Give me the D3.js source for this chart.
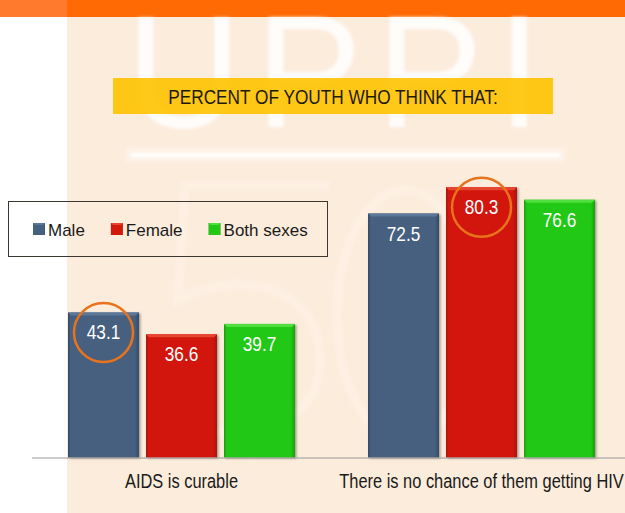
<!DOCTYPE html>
<html>
<head>
<meta charset="utf-8">
<script src="https://cdn.jsdelivr.net/npm/d3@7"></script>
<style>
  html, body { margin: 0; padding: 0; background: #ffffff; }
  svg { display: block; }
</style>
</head>
<body>
<svg id="chart" width="625" height="513"></svg>
<script>
// ---- data ----
const categories = ["AIDS is curable", "There is no chance of them getting HIV"];
const seriesNames = ["Male", "Female", "Both sexes"];
const maleValues = [43.1, 72.5];
const femaleValues = [36.6, 80.3];
const bothValues = [39.7, 76.6];
const titleText = "PERCENT OF YOUTH WHO THINK THAT:";
const watermarkText = "UPPI";

const seriesValues = [maleValues, femaleValues, bothValues];
const colors = {
  "Male":       { base: "#46607f", light: "#5b7899", dark: "#344a66" },
  "Female":     { base: "#d2190c", light: "#e8452f", dark: "#a81208" },
  "Both sexes": { base: "#22c814", light: "#4fe03f", dark: "#19a00e" }
};

const W = 625, H = 513;
const regular = "'Liberation Sans', Arial, sans-serif";
const CONDENSE = 0.82;

// squeeze a text horizontally to a condensed face
function condense(sel) {
  sel.each(function() {
    const len = this.getComputedTextLength();
    d3.select(this)
      .attr("textLength", len * CONDENSE)
      .attr("lengthAdjust", "spacingAndGlyphs");
  });
}

const svg = d3.select("#chart");
const defs = svg.append("defs");

// ---- page background ----
svg.append("rect").attr("x", 0).attr("y", 0).attr("width", W).attr("height", H).attr("fill", "#ffffff");
svg.append("rect").attr("x", 67).attr("y", 0).attr("width", W - 67).attr("height", H).attr("fill", "#fcecdc");
svg.append("rect").attr("x", 0).attr("y", 0).attr("width", 67).attr("height", 17).attr("fill", "#ff7a2c");
svg.append("rect").attr("x", 67).attr("y", 0).attr("width", W - 67).attr("height", 17).attr("fill", "#ff6a05");

// soft blur for the watermark
const blur = defs.append("filter").attr("id", "soft").attr("x", "-10%").attr("y", "-10%").attr("width", "120%").attr("height", "120%");
blur.append("feGaussianBlur").attr("stdDeviation", 1.6);

const wm = svg.append("g").attr("filter", "url(#soft)");
wm.append("text")
  .attr("x", 126).attr("y", 127)
  .attr("font-family", regular)
  .attr("font-size", 160)
  .attr("letter-spacing", 14)
  .attr("fill", "#ffffff")
  .attr("fill-opacity", 0.85)
  .text(watermarkText);

// rule under the watermark
wm.append("rect").attr("x", 126).attr("y", 148).attr("width", 439).attr("height", 14)
  .attr("fill", "#ffffff").attr("fill-opacity", 0.3);
wm.append("rect").attr("x", 131).attr("y", 153).attr("width", 429).attr("height", 4)
  .attr("fill", "#ffffff");

// faint emblem behind the bars
const emb = svg.append("g").attr("filter", "url(#soft)")
  .attr("fill", "none").attr("stroke", "#ffffff").attr("stroke-opacity", 0.2).attr("stroke-width", 9);
emb.append("path").attr("d", "M330,185 L185,185 L178,300 C230,270 320,280 320,360 C320,440 210,450 170,410");
emb.append("ellipse").attr("cx", 405).attr("cy", 315).attr("rx", 68).attr("ry", 125);

// ---- title banner ----
svg.append("rect").attr("x", 113).attr("y", 78).attr("width", 440).attr("height", 36)
  .attr("fill", "#fec300").attr("fill-opacity", 0.9);
svg.append("text")
  .attr("x", 333).attr("y", 104)
  .attr("text-anchor", "middle")
  .attr("font-family", regular)
  .attr("font-size", 21)
  .attr("fill", "#1e1a10")
  .text(titleText)
  .call(condense);

// ---- scales ----
const baseY = 457.5;
const x0 = d3.scaleBand().domain(categories).range([31.5, 631.5]).padding(0);
const x1 = d3.scaleBand().domain(seriesNames).range([36.5, 263.5]).paddingInner(0.0897).paddingOuter(0);
const y = d3.scaleLinear().domain([0, 100]).range([baseY, baseY - 336.5]);

// gradients for the bevelled bars
seriesNames.forEach((s, i) => {
  const g = defs.append("linearGradient").attr("id", "grad" + i)
    .attr("x1", "0%").attr("x2", "100%").attr("y1", "0%").attr("y2", "0%");
  g.append("stop").attr("offset", "0%").attr("stop-color", colors[s].dark);
  g.append("stop").attr("offset", "4%").attr("stop-color", colors[s].base);
  g.append("stop").attr("offset", "94%").attr("stop-color", colors[s].base);
  g.append("stop").attr("offset", "100%").attr("stop-color", colors[s].dark);
});
const shadow = defs.append("filter").attr("id", "shadow").attr("x", "-10%").attr("y", "-10%").attr("width", "130%").attr("height", "130%");
shadow.append("feDropShadow").attr("dx", 1.5).attr("dy", 1).attr("stdDeviation", 1.2)
  .attr("flood-color", "#000").attr("flood-opacity", 0.35);

// ---- bars ----
const rows = categories.map((c, ci) => ({
  category: c,
  values: seriesNames.map((s, si) => ({ series: s, si, value: seriesValues[si][ci] }))
}));

const groups = svg.append("g").selectAll("g.grp").data(rows).join("g")
  .attr("class", "grp")
  .attr("transform", d => `translate(${x0(d.category)},0)`);

const bars = groups.selectAll("g.bar").data(d => d.values).join("g").attr("class", "bar");

bars.append("rect")
  .attr("x", d => x1(d.series))
  .attr("y", d => y(d.value))
  .attr("width", x1.bandwidth())
  .attr("height", d => baseY - y(d.value))
  .attr("fill", d => `url(#grad${d.si})`)
  .attr("filter", "url(#shadow)");

// top bevel highlight
bars.append("path")
  .attr("d", d => {
    const xl = x1(d.series), xr = xl + x1.bandwidth(), yt = y(d.value);
    return `M${xl},${yt} L${xr},${yt} L${xr - 3},${yt + 3} L${xl + 3},${yt + 3} Z`;
  })
  .attr("fill", d => colors[d.series].light);

// value labels
bars.append("text")
  .attr("x", d => x1(d.series) + x1.bandwidth() / 2)
  .attr("y", d => y(d.value) + 27)
  .attr("text-anchor", "middle")
  .attr("font-family", regular)
  .attr("font-size", 21)
  .attr("fill", "#ffffff")
  .text(d => d.value.toFixed(1))
  .call(condense);

// highlight ring around the highest value in each group
groups.each(function(d) {
  const top = d3.greatest(d.values, v => v.value);
  d3.select(this).append("circle")
    .attr("cx", x1(top.series) + x1.bandwidth() / 2)
    .attr("cy", y(top.value) + 20)
    .attr("r", 29.5)
    .attr("fill", "none")
    .attr("stroke", "#e8731c")
    .attr("stroke-width", 2.5);
});

// ---- x axis ----
const axis = svg.append("g")
  .attr("transform", `translate(0,${baseY})`)
  .call(d3.axisBottom(x0).tickSize(0).tickPadding(16));
axis.select(".domain").attr("stroke", "#9a9a9a").attr("stroke-width", 1);
axis.selectAll("text")
  .attr("font-family", regular)
  .attr("font-size", 20)
  .attr("fill", "#1a1a1a")
  .call(condense);

// ---- legend ----
svg.append("rect").attr("x", 8.5).attr("y", 201.5).attr("width", 319).attr("height", 55)
  .attr("fill", "none").attr("stroke", "#3a3630").attr("stroke-width", 1);

const legend = svg.append("g");
let lx = 33;
seriesNames.forEach((s, i) => {
  const item = legend.append("g");
  item.append("rect").attr("x", lx).attr("y", 223).attr("width", 12).attr("height", 12)
    .attr("fill", `url(#grad${i})`);
  item.append("path")
    .attr("d", `M${lx},223 L${lx + 12},223 L${lx + 10},225 L${lx + 2},225 Z`)
    .attr("fill", colors[s].light);
  const t = item.append("text").attr("x", lx + 15).attr("y", 236)
    .attr("font-family", regular).attr("font-size", 17).attr("fill", "#1a1a1a")
    .text(s);
  lx += 15 + t.node().getComputedTextLength() + 26;
});
</script>
</body>
</html>
